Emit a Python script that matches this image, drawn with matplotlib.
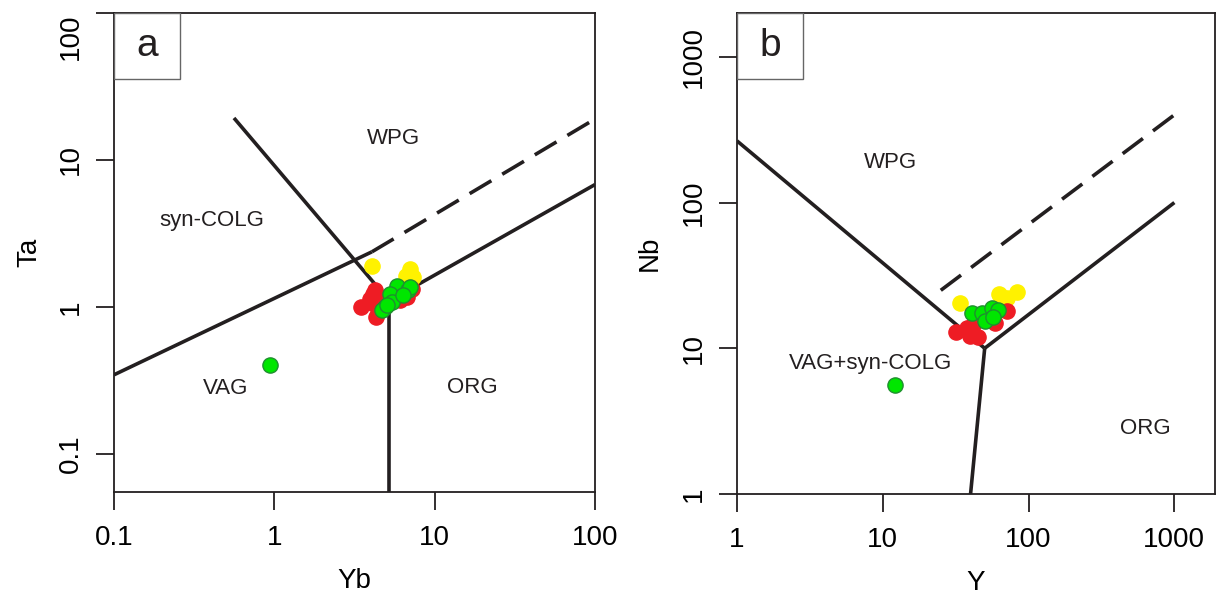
import numpy as np
import matplotlib.pyplot as plt

plt.rcParams['font.family'] = ['Liberation Sans', 'DejaVu Sans']

# ---- panel a : Ta vs Yb ----
a_red_yb = [3.45, 4.1, 4.3, 4.2, 4.25, 3.95, 6.1, 6.7, 7.2, 4.6]
a_red_ta = [1.0, 1.22, 0.86, 1.05, 1.3, 1.13, 1.12, 1.17, 1.33, 1.15]
a_yel_yb = [4.05, 7.0, 6.6, 7.3, 7.0]
a_yel_ta = [1.9, 1.8, 1.62, 1.6, 1.7]
a_grn_yb = [0.94, 5.82, 5.27, 4.91, 5.42, 6.82, 4.7, 5.05, 7.0, 6.35]
a_grn_ta = [0.40, 1.39, 1.23, 1.0, 1.08, 1.31, 0.95, 1.03, 1.37, 1.2]

# boundaries (Yb, Ta)
a_wpg_line = ([0.56, 5.2], [19.3, 1.1])
a_colg_line = ([0.1, 4.06], [0.345, 2.37])
a_org_line = ([5.2, 100], [1.1, 6.8])
a_vag_line = ([5.2, 5.2], [1.1, 0.05])
a_dash_line = ([4.06, 100], [2.37, 19.0])

# ---- panel b : Nb vs Y ----
b_red_y = [31.6, 41.3, 39.4, 44.8, 58.5, 70.7, 38.0]
b_red_nb = [12.9, 14.4, 12.1, 11.9, 14.8, 17.9, 13.7]
b_yel_y = [33.7, 62.3, 70.7, 82.7]
b_yel_nb = [20.3, 23.4, 22.0, 24.2]
b_grn_y = [12.1, 40.7, 47.7, 55.8, 61.3, 50.0, 56.6]
b_grn_nb = [5.6, 17.6, 17.4, 18.8, 18.2, 15.3, 16.3]

b_wpg_line = ([1, 50], [265, 10])
b_org_line = ([50, 1000], [10, 100])
b_vag_line = ([50, 40], [10, 1])
b_dash_line = ([25, 1000], [25, 400])

red = '#ee1c24'
yel = '#fff200'
grn = '#00e600'
lc = '#231f20'

fig = plt.figure(figsize=(12.17, 5.94), dpi=100)
ax1 = fig.add_axes([114 / 1217, 1 - 492 / 594, 481 / 1217, 479 / 594])
ax2 = fig.add_axes([737 / 1217, 1 - 494 / 594, 478 / 1217, 481 / 594])


def style(ax, xt, yt, xlab, ylab, xlim, ylim, letter, ylpad):
    ax.set_xscale('log')
    ax.set_yscale('log')
    ax.set_xlim(*xlim)
    ax.set_ylim(*ylim)
    ax.set_xticks(xt)
    ax.set_xticklabels([str(v) for v in xt])
    ax.set_yticks(yt)
    ax.set_yticklabels([str(v) for v in yt], rotation=90, va='center')
    ax.minorticks_off()
    ax.tick_params(length=13, width=1.3, labelsize=20, color=lc, pad=11)
    ax.tick_params(axis='y', pad=9)
    ax.set_xlabel(xlab, fontsize=20, labelpad=12)
    ax.set_ylabel(ylab, fontsize=20, labelpad=ylpad)
    for s in ax.spines.values():
        s.set_linewidth(1.3)
        s.set_color(lc)
    ax.add_patch(plt.Rectangle((0, 1 - 66 / 479), 66 / 480, 66 / 479,
                               transform=ax.transAxes, fc='white', ec='#666666',
                               lw=1.0, zorder=5))
    ax.text(33 / 480, 1 - 33 / 479, letter, transform=ax.transAxes, fontsize=28,
            ha='center', va='center', color=lc, zorder=6)


def pts(ax, x, y, c, ec):
    ax.scatter(x, y, s=120, c=c, edgecolors=ec, linewidths=1.0, zorder=4)


# panel a
for ln in [a_wpg_line, a_colg_line, a_org_line, a_vag_line]:
    ax1.plot(ln[0], ln[1], color=lc, lw=2.6, solid_capstyle='butt')
ax1.plot(a_dash_line[0], a_dash_line[1], color=lc, lw=2.6, ls=(0, (7, 3.5)))
pts(ax1, a_yel_yb, a_yel_ta, yel, yel)
pts(ax1, a_red_yb, a_red_ta, red, red)
pts(ax1, a_grn_yb, a_grn_ta, grn, '#1f8f2f')
ax1.text(5.5, 13.9, 'WPG', fontsize=16, ha='center', va='center', color=lc)
ax1.text(0.41, 3.9, 'syn-COLG', fontsize=16, ha='center', va='center', color=lc)
ax1.text(0.5, 0.277, 'VAG', fontsize=16, ha='center', va='center', color=lc)
ax1.text(17.1, 0.285, 'ORG', fontsize=16, ha='center', va='center', color=lc)
style(ax1, [0.1, 1, 10, 100], [0.1, 1, 10, 100], 'Yb', 'Ta',
      (0.1, 100), (0.055, 100), 'a', 11)
# top label kept inside the figure
ax1.get_yticklabels()[-1].set_va('top')

# panel b
for ln in [b_wpg_line, b_org_line, b_vag_line]:
    ax2.plot(ln[0], ln[1], color=lc, lw=2.6, solid_capstyle='butt')
ax2.plot(b_dash_line[0], b_dash_line[1], color=lc, lw=2.6, ls=(0, (7, 3.5)))
pts(ax2, b_yel_y, b_yel_nb, yel, yel)
pts(ax2, b_red_y, b_red_nb, red, red)
pts(ax2, b_grn_y, b_grn_nb, grn, '#1f8f2f')
ax2.text(11.3, 188, 'WPG', fontsize=16, ha='center', va='center', color=lc)
ax2.text(8.3, 7.9, 'VAG+syn-COLG', fontsize=16, ha='center', va='center', color=lc)
ax2.text(633, 2.83, 'ORG', fontsize=16, ha='center', va='center', color=lc)
style(ax2, [1, 10, 100, 1000], [1, 10, 100, 1000], 'Y', 'Nb',
      (1, 1900), (1, 2000), 'b', 13)

fig.savefig('out.png', dpi=100)
